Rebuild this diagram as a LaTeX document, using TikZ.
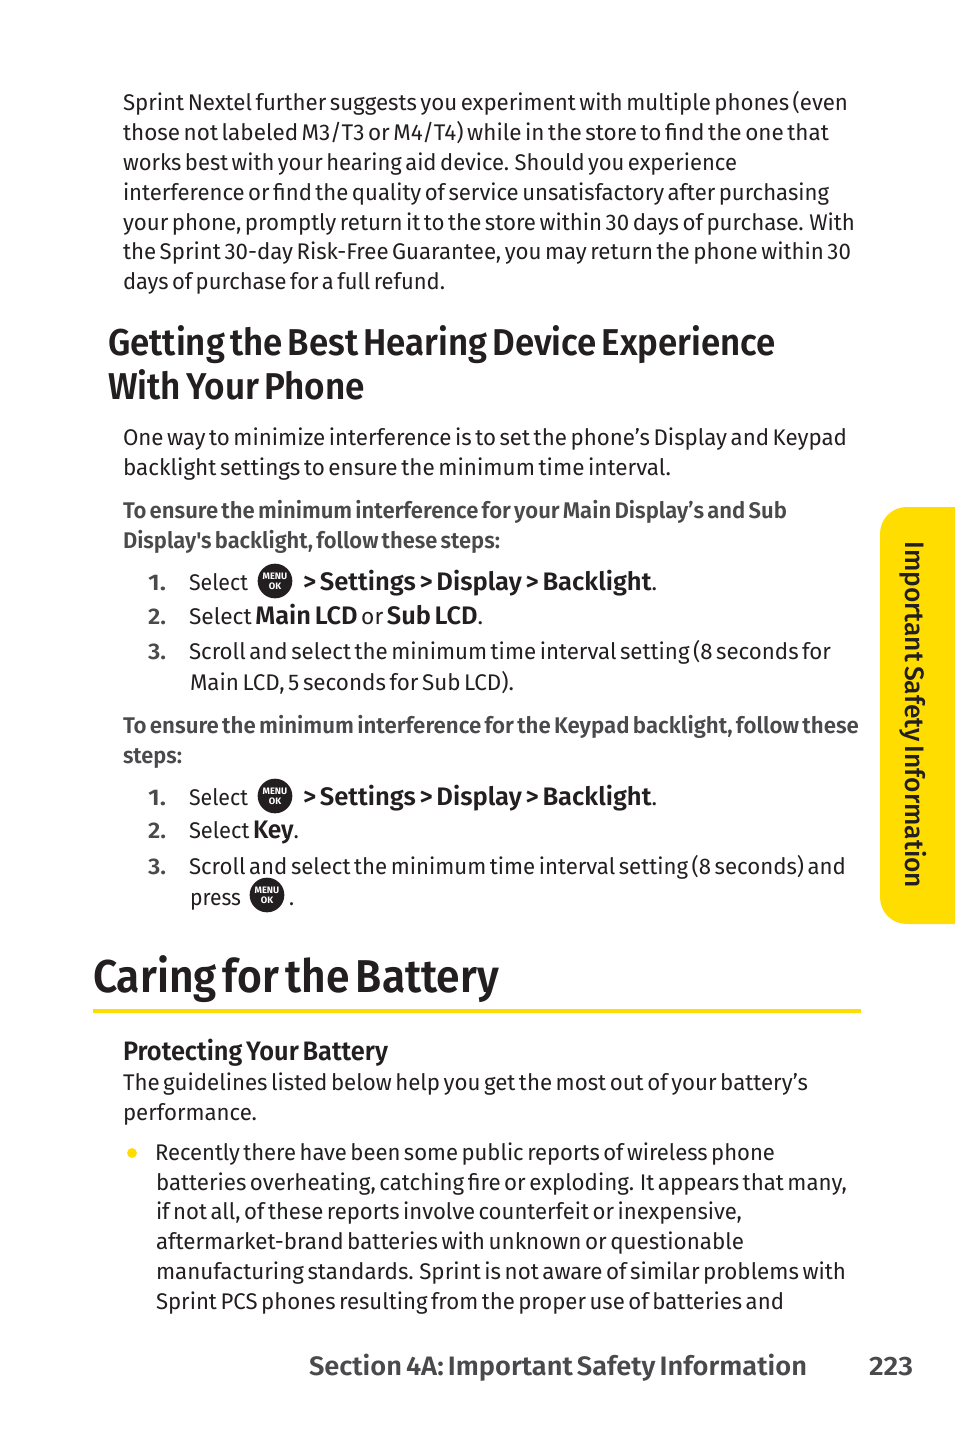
\documentclass[tikz,border=0pt]{standalone}
\usepackage{fontspec}
\setmainfont[WordSpace=0.6]{Fira Sans}
\newfontfamily\medf[WordSpace=0.6]{Fira Sans Medium}
\newfontfamily\semif[WordSpace=0.6]{Fira Sans SemiBold}
\definecolor{ink}{HTML}{231F20}
\definecolor{greyink}{HTML}{4A4A4C}
\definecolor{tabyellow}{HTML}{FFDD00}
\newsavebox{\fitsave}
\newcommand{\fitto}[2]{\sbox{\fitsave}{#2}\pgfmathsetmacro{\fitratio}{#1*0.75/\the\wd\fitsave}\scalebox{\fitratio}[1]{\usebox{\fitsave}}}
\tikzset{
 x=0.75pt,y=0.75pt,
 tline/.style={anchor=base west,inner sep=0pt,outer sep=0pt,text=ink},
 body/.style={tline,font=\fontsize{17}{20}\selectfont},
 lead/.style={tline,text=greyink,font=\fontsize{17}{20}\selectfont\semif},
 numf/.style={tline,text=greyink,font=\fontsize{17}{20}\selectfont\semif},
 hone/.style={tline,font=\fontsize{28}{32}\selectfont\semif},
 htop/.style={tline,font=\fontsize{34.5}{38}\selectfont\semif},
 htwo/.style={tline,font=\fontsize{20}{24}\selectfont\semif},
 foot/.style={tline,text=greyink,font=\fontsize{20}{24}\selectfont\semif},
 menuicon/.style={circle,fill=ink,text=white,inner sep=0pt,minimum size=26pt,align=center,font=\fontsize{7}{7.5}\selectfont\bfseries},
}
\newcommand{\tl}[6][body]{\node[#1] (#2) at (#3,-#5) {\fitto{\the\numexpr#4-#3\relax}{#6}};}
\newcommand{\micon}[3]{\node[menuicon] (#1) at (#2,-#3) {MENU\\OK};}
\begin{document}
\begin{tikzpicture}
\useasboundingbox (0,0) rectangle (954,-1431);
% side tab
\fill[tabyellow,rounded corners=20pt] (990,-507) -- (880,-507) -- (880,-924) -- (990,-924) -- cycle;
\node[anchor=base west,inner sep=0pt,rotate=-90,text=ink,font=\fontsize{20}{24}\selectfont\medf] (tab) at (905,-541) {\fitto{347}{Important Safety Information}};
% intro
\tl{a1}{123}{848}{110}{Sprint Nextel further suggests you experiment with multiple phones (even}
\tl{a2}{123}{829}{140}{those not labeled M3/T3 or M4/T4) while in the store to find the one that}
\tl{a3}{123}{737}{170}{works best with your hearing aid device. Should you experience}
\tl{a4}{123}{829}{200}{interference or find the quality of service unsatisfactory after purchasing}
\tl{a5}{123}{855}{230}{your phone, promptly return it to the store within 30 days of purchase. With}
\tl{a6}{123}{851}{259}{the Sprint 30-day Risk-Free Guarantee, you may return the phone within 30}
\tl{a7}{123}{445}{289}{days of purchase for a full refund.}
% heading
\tl[hone]{h1}{108}{776}{355}{Getting the Best Hearing Device Experience}
\tl[hone]{h2}{108}{365}{399}{With Your Phone}
\tl{b1}{123}{847}{445}{One way to minimize interference is to set the phone’s Display and Keypad}
\tl{b2}{123}{671}{475}{backlight settings to ensure the minimum time interval.}
\tl[lead]{c1}{123}{787}{518}{To ensure the minimum interference for your Main Display’s and Sub}
\tl[lead]{c2}{123}{500}{548}{Display's backlight, follow these steps:}
% first list
\tl[numf]{n1}{148}{166}{590}{1.}
\tl{s1}{189}{248}{590}{Select}
\micon{i1}{275}{581}
\node[tline,font=\fontsize{19}{22}\selectfont] (m1) at (303,-590) {\fitto{354}{\semif > Settings > Display > Backlight\normalfont\fontsize{17}{20}\selectfont.}};
\tl[numf]{n2}{148}{166}{624}{2.}
\node[tline,font=\fontsize{17}{20}\selectfont] (s2) at (189,-624) {\fitto{294}{Select {\fontsize{19}{22}\selectfont\semif Main LCD} or {\fontsize{19}{22}\selectfont\semif Sub LCD}.}};
\tl[numf]{n3}{148}{166}{659}{3.}
\tl{s3}{189}{831}{659}{Scroll and select the minimum time interval setting (8 seconds for}
\tl{s4}{190}{514}{690}{Main LCD, 5 seconds for Sub LCD).}
\tl[lead]{d1}{123}{859}{733}{To ensure the minimum interference for the Keypad backlight, follow these}
\tl[lead]{d2}{123}{182}{763}{steps:}
% second list
\tl[numf]{k1}{148}{166}{805}{1.}
\tl{t1}{189}{248}{805}{Select}
\micon{i2}{275}{796}
\node[tline,font=\fontsize{19}{22}\selectfont] (m2) at (303,-805) {\fitto{354}{\semif > Settings > Display > Backlight\normalfont\fontsize{17}{20}\selectfont.}};
\tl[numf]{k2}{148}{166}{838}{2.}
\node[tline,font=\fontsize{17}{20}\selectfont] (t2) at (189,-838) {\fitto{110}{Select {\fontsize{19}{22}\selectfont\semif Key}.}};
\tl[numf]{k3}{148}{166}{874}{3.}
\tl{t3}{189}{846}{874}{Scroll and select the minimum time interval setting (8 seconds) and}
\tl{t4}{190}{241}{905}{press}
\micon{i3}{267}{895}
\tl{t5}{289}{294}{905}{.}
% battery
\tl[htop]{e1}{93}{499}{992}{Caring for the Battery}
\fill[tabyellow] (93,-1009) rectangle (861,-1013);
\tl[htwo]{e2}{123}{388}{1060}{Protecting Your Battery}
\tl{e3}{123}{808}{1090}{The guidelines listed below help you get the most out of your battery’s}
\tl{e4}{123}{257}{1120}{performance.}
\fill[tabyellow] (132,-1153) circle (3.7pt);
\tl{f1}{155}{775}{1160}{Recently there have been some public reports of wireless phone}
\tl{f2}{156}{847}{1190}{batteries overheating, catching fire or exploding. It appears that many,}
\tl{f3}{156}{742}{1219}{if not all, of these reports involve counterfeit or inexpensive,}
\tl{f4}{156}{744}{1249}{aftermarket-brand batteries with unknown or questionable}
\tl{f5}{156}{846}{1279}{manufacturing standards. Sprint is not aware of similar problems with}
\tl{f6}{156}{784}{1309}{Sprint PCS phones resulting from the proper use of batteries and}
% footer
\tl[foot]{g1}{309}{807}{1375}{Section 4A: Important Safety Information}
\tl[foot]{g2}{869}{913}{1375}{223}
\end{tikzpicture}
\end{document}
